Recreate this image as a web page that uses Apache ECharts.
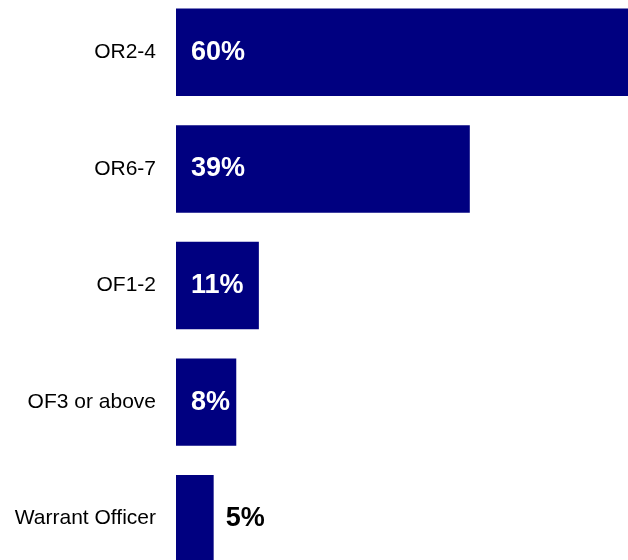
<!DOCTYPE html>
<html>
<head>
<meta charset="utf-8">
<script src="https://cdn.jsdelivr.net/npm/echarts@6/dist/echarts.min.js"></script>
<style>
  html, body { margin: 0; padding: 0; background: #fff; overflow: hidden; width: 628px; height: 560px; }
  /* the canvas extends past the page edges so the last bar is cut off at the bottom */
  #chart { position: absolute; left: 0; top: -6px; width: 628px; height: 583px; }
</style>
</head>
<body>
<div id="chart"></div>
<script>
// Share of respondents by rank group
const categories = ['OR2-4', 'OR6-7', 'OF1-2', 'OF3 or above', 'Warrant Officer'];
const values = [60, 39, 11, 8, 5];
// Bars too narrow to hold their label get it printed outside, in black
const outsideLabel = [false, false, false, false, true];

const FONT = 'Arial, "Liberation Sans", sans-serif';

const seriesData = values.map((v, i) => ({
  value: v,
  label: outsideLabel[i]
    ? { position: 'right', distance: 12, color: '#000' }
    : { position: 'insideLeft', distance: 15, color: '#fff' }
}));

const chart = echarts.init(document.getElementById('chart'));
chart.setOption({
  animation: false,
  backgroundColor: '#fff',
  grid: { left: 176, right: 0, top: 0, bottom: 0, containLabel: false },
  xAxis: {
    type: 'value',
    min: 0,
    max: 60,
    show: false
  },
  yAxis: {
    type: 'category',
    data: categories,
    inverse: true,
    axisLine: { show: false },
    axisTick: { show: false },
    axisLabel: {
      margin: 20,
      color: '#000',
      fontSize: 21,
      fontFamily: FONT
    }
  },
  series: [{
    type: 'bar',
    data: seriesData,
    barCategoryGap: '25%',
    itemStyle: { color: '#000080' },
    label: {
      show: true,
      formatter: '{c}%',
      fontSize: 27,
      fontWeight: 'bold',
      fontFamily: FONT
    }
  }]
});
</script>
</body>
</html>
